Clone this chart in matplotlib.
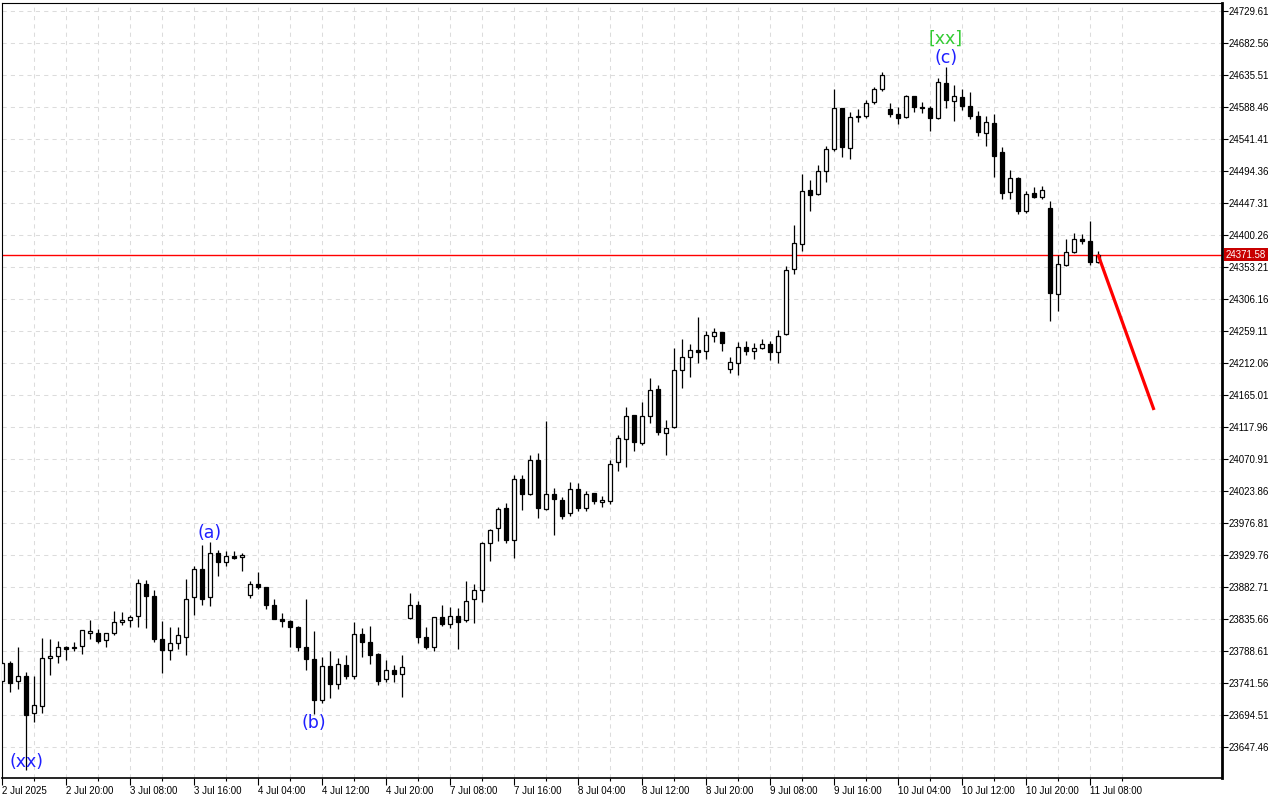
import matplotlib.pyplot as plt
import numpy as np

plt.rcParams['font.family'] = ['Liberation Sans', 'DejaVu Sans']

# hourly candles, 2 Jul 2025 .. 11 Jul 2025
opens = [23744.5, 23771.0, 23744.5, 23751.9, 23697.5, 23707.8, 23778.3, 23781.3, 23794.5, 23793.0,
         23796.0, 23815.1, 23815.1, 23804.8, 23815.1, 23831.3, 23834.2, 23840.1, 23887.1, 23869.5,
         23806.3, 23790.1, 23800.4, 23809.2, 23868.0, 23909.2, 23868.0, 23932.7, 23919.5, 23928.3,
         23926.8, 23871.0, 23887.1, 23882.7, 23856.2, 23835.7, 23832.7, 23823.9, 23794.5, 23776.8,
         23716.6, 23766.6, 23740.1, 23768.0, 23751.9, 23813.6, 23801.8, 23784.2, 23747.5, 23760.7,
         23754.8, 23837.1, 23856.2, 23809.2, 23794.5, 23838.6, 23828.3, 23840.1, 23834.2, 23865.1,
         23878.3, 23947.4, 23969.5, 23998.9, 23951.8, 24041.5, 24019.5, 24069.5, 23997.4, 24019.5,
         24010.7, 23991.5, 24026.8, 23998.9, 24021.0, 24007.7, 24009.2, 24066.5, 24100.3, 24135.6,
         24094.5, 24134.2, 24173.9, 24109.2, 24118.0, 24201.8, 24220.9, 24231.2, 24229.7, 24251.8,
         24257.7, 24203.3, 24212.1, 24235.6, 24229.7, 24234.2, 24240.0, 24228.3, 24254.7, 24350.3,
         24387.1, 24466.4, 24460.5, 24494.3, 24526.7, 24587.0, 24528.2, 24573.8, 24575.2, 24595.9,
         24615.0, 24585.5, 24578.2, 24573.8, 24604.7, 24588.5, 24587.0, 24572.3, 24623.8, 24597.3,
         24603.2, 24589.9, 24575.2, 24550.2, 24564.9, 24522.3, 24463.5, 24484.1, 24435.5, 24462.0,
         24456.1, 24439.9, 24313.5, 24356.2, 24375.3, 24394.4, 24391.5, 24360.6]

highs = [23772.4, 23773.9, 23794.5, 23757.7, 23751.9, 23807.7, 23806.3, 23803.3, 23796.0, 23801.8,
         23819.5, 23834.2, 23821.0, 23815.1, 23847.4, 23846.0, 23841.5, 23894.5, 23893.0, 23878.3,
         23832.7, 23823.9, 23823.9, 23894.5, 23913.6, 23944.5, 23948.9, 23937.1, 23935.6, 23935.6,
         23932.7, 23891.5, 23904.8, 23882.7, 23865.1, 23844.5, 23834.2, 23825.4, 23865.1, 23818.0,
         23779.8, 23788.6, 23778.3, 23782.7, 23831.3, 23822.4, 23825.4, 23785.7, 23775.4, 23768.0,
         23782.7, 23873.9, 23862.1, 23823.9, 23838.6, 23856.2, 23853.3, 23851.8, 23891.5, 23887.1,
         23948.9, 23968.0, 24000.3, 24006.2, 24047.4, 24047.4, 24076.8, 24079.8, 24126.8, 24028.3,
         24015.1, 24037.1, 24035.6, 24023.9, 24021.0, 24016.5, 24069.5, 24106.2, 24147.4, 24135.6,
         24154.8, 24190.0, 24179.8, 24128.3, 24234.2, 24247.4, 24240.0, 24279.7, 24259.1, 24263.5,
         24257.7, 24220.9, 24243.0, 24244.5, 24241.5, 24247.4, 24244.5, 24260.6, 24354.7, 24414.9,
         24489.9, 24481.1, 24503.1, 24531.1, 24615.0, 24587.0, 24581.1, 24585.5, 24598.8, 24617.9,
         24639.9, 24594.4, 24588.5, 24606.1, 24604.7, 24595.9, 24589.9, 24631.1, 24647.3, 24620.8,
         24615.0, 24610.5, 24582.6, 24575.2, 24578.2, 24529.7, 24495.8, 24485.6, 24464.9, 24470.8,
         24472.3, 24450.3, 24370.9, 24394.4, 24403.2, 24401.7, 24420.9, 24376.8]

lows = [23743.0, 23728.3, 23732.7, 23613.7, 23684.3, 23697.5, 23753.3, 23771.0, 23775.4, 23788.6,
        23784.2, 23806.3, 23800.4, 23794.5, 23812.1, 23826.8, 23823.9, 23823.9, 23822.4, 23801.8,
        23756.3, 23775.4, 23791.6, 23782.7, 23841.5, 23856.2, 23854.8, 23898.9, 23913.6, 23923.9,
        23906.2, 23866.5, 23879.8, 23850.4, 23835.7, 23823.9, 23794.5, 23788.6, 23760.7, 23696.0,
        23712.2, 23719.5, 23732.7, 23747.5, 23747.5, 23779.8, 23769.5, 23738.6, 23743.0, 23743.0,
        23721.0, 23835.7, 23800.4, 23791.6, 23788.6, 23825.4, 23822.4, 23791.6, 23831.3, 23829.8,
        23860.7, 23920.9, 23950.4, 23947.4, 23925.4, 23995.9, 24018.0, 23984.2, 23996.0, 23959.2,
        23982.7, 23987.1, 23994.5, 23994.5, 24004.8, 24000.3, 24004.8, 24053.3, 24059.2, 24082.7,
        24091.5, 24123.9, 24106.2, 24076.8, 24116.5, 24175.3, 24191.5, 24212.1, 24218.0, 24243.0,
        24229.7, 24197.4, 24194.5, 24223.9, 24218.0, 24232.7, 24216.5, 24212.1, 24253.5, 24342.9,
        24376.8, 24435.5, 24459.0, 24478.2, 24523.8, 24515.0, 24512.0, 24566.4, 24572.3, 24593.0,
        24612.0, 24573.8, 24563.5, 24573.0, 24581.1, 24579.7, 24553.2, 24571.5, 24587.0, 24567.9,
        24584.1, 24570.8, 24545.8, 24531.1, 24485.6, 24453.2, 24453.2, 24431.1, 24432.5, 24454.6,
        24453.2, 24273.8, 24288.5, 24354.7, 24373.8, 24387.1, 24356.2, 24359.1]

closes = [23771.0, 23741.6, 23751.9, 23694.5, 23709.2, 23778.3, 23781.3, 23794.5, 23791.6, 23794.5,
          23819.5, 23818.0, 23803.3, 23815.1, 23831.3, 23834.2, 23838.6, 23888.6, 23869.5, 23806.3,
          23790.1, 23800.4, 23812.1, 23865.1, 23909.2, 23865.1, 23932.7, 23919.5, 23928.3, 23925.4,
          23929.8, 23887.1, 23882.7, 23856.2, 23835.7, 23832.7, 23823.9, 23794.5, 23776.8, 23716.6,
          23766.6, 23740.1, 23769.5, 23751.9, 23813.6, 23801.8, 23782.7, 23744.5, 23760.7, 23754.8,
          23765.1, 23856.2, 23809.2, 23794.5, 23838.6, 23828.3, 23840.1, 23831.3, 23862.1, 23878.3,
          23947.4, 23966.5, 23997.4, 23951.8, 24041.5, 24019.5, 24069.5, 23998.9, 24019.5, 24012.1,
          23987.1, 24026.8, 23998.9, 24019.5, 24009.2, 24010.7, 24063.6, 24101.8, 24134.2, 24095.9,
          24134.2, 24172.4, 24110.7, 24116.5, 24201.8, 24220.9, 24231.2, 24228.3, 24253.3, 24257.7,
          24241.5, 24213.6, 24235.6, 24229.7, 24234.2, 24240.0, 24228.3, 24251.8, 24348.8, 24388.5,
          24464.9, 24459.0, 24494.3, 24526.7, 24587.0, 24529.7, 24573.8, 24575.2, 24594.4, 24615.0,
          24635.5, 24578.2, 24572.3, 24604.7, 24588.5, 24587.0, 24572.3, 24625.2, 24598.8, 24604.7,
          24589.9, 24575.2, 24551.7, 24566.4, 24516.4, 24462.0, 24484.1, 24435.5, 24460.5, 24456.1,
          24466.4, 24315.0, 24357.6, 24375.3, 24394.4, 24391.5, 24360.6, 24371.58]

time_labels = ['2 Jul 2025', '2 Jul 20:00', '3 Jul 08:00', '3 Jul 16:00', '4 Jul 04:00',
               '4 Jul 12:00', '4 Jul 20:00', '7 Jul 08:00', '7 Jul 16:00', '8 Jul 04:00',
               '8 Jul 12:00', '8 Jul 20:00', '9 Jul 08:00', '9 Jul 16:00', '10 Jul 04:00',
               '10 Jul 12:00', '10 Jul 20:00', '11 Jul 08:00']
label_bars = list(range(0, 8 * len(time_labels), 8))

price_ticks = [24729.61, 24682.56, 24635.51, 24588.46, 24541.41, 24494.36, 24447.31, 24400.26,
               24353.21, 24306.16, 24259.11, 24212.06, 24165.01, 24117.96, 24070.91, 24023.86,
               23976.81, 23929.76, 23882.71, 23835.66, 23788.61, 23741.56, 23694.51, 23647.46]

current_price = 24371.58
forecast_x = [137, 144]
forecast_y = [24371.58, 24143.0]

wave_text = ['(xx)', '(a)', '(b)', '(c)', '[xx]']
wave_x = [3, 26, 39, 118, 118]
wave_y = [23625.4, 23962.2, 23682.8, 24660.5, 24688.5]
wave_color = ['#1f1fff', '#1f1fff', '#1f1fff', '#1f1fff', '#33cc33']

o = np.array(opens)
h = np.array(highs)
l = np.array(lows)
c = np.array(closes)
x = np.arange(len(o))

fig = plt.figure(figsize=(12.8, 8), dpi=100)
ax = fig.add_axes([1.7 / 1280, 22 / 800, 1220.3 / 1280, 775.5 / 800])

# grid
ax.set_xticks(label_bars)
ax.set_xticks([b + 4 for b in label_bars], minor=True)
ax.set_yticks(price_ticks)
ax.grid(which='both', axis='x', color='#dcdcdc', ls=(0, (4, 4)), lw=0.75, zorder=0)
ax.grid(which='major', axis='y', color='#dcdcdc', ls=(0, (4, 4)), lw=0.75, zorder=0)

# candles
up = c >= o
ax.vlines(x, l, h, color='black', lw=0.9, zorder=2)
body_bottom = np.minimum(o, c)
body_height = np.maximum(np.abs(c - o), 0.4)
ax.bar(x, body_height, 0.55, bottom=body_bottom,
       color=np.where(up, 'white', 'black'), edgecolor='black', lw=0.9, zorder=3)

# current price line and forecast
ax.axhline(current_price, color='#ff0000', lw=1.0, zorder=1.5)
ax.plot(forecast_x, forecast_y, color='#ff0000', lw=2.3, zorder=4, solid_capstyle='butt')

for t, wx, wy, col in zip(wave_text, wave_x, wave_y, wave_color):
    ax.text(wx, wy, t, color=col, fontsize=12.5, ha='center', va='center', zorder=5,
            family=['DejaVu Sans'])

ax.set_xlim(-0.04, 152.5)
ax.set_ylim(23601.9, 24742.1)

# axes styling
ax.yaxis.tick_right()
ax.set_yticklabels(['%.2f' % p for p in price_ticks])
ax.set_xticklabels(time_labels, ha='left')
ax.tick_params(axis='y', which='major', direction='out', length=4, width=0.8, labelsize=7, pad=1)
ax.tick_params(axis='x', which='major', direction='out', length=5, width=0.8, labelsize=7, pad=1)
ax.tick_params(axis='x', which='minor', direction='out', length=2.5, width=0.8)
for s in ax.spines.values():
    s.set_color('black')
    s.set_linewidth(0.8)
ax.spines['right'].set_linewidth(2)
ax.spines['bottom'].set_linewidth(1.2)

ax.annotate('%.2f' % current_price, xy=(1, current_price), xycoords=('axes fraction', 'data'),
            xytext=(2.5, 0), textcoords='offset points', ha='left', va='center',
            fontsize=7, color='white',
            bbox=dict(boxstyle='square,pad=0.2', fc='#c80000', ec='none'))

fig.savefig('out.png', dpi=100)
